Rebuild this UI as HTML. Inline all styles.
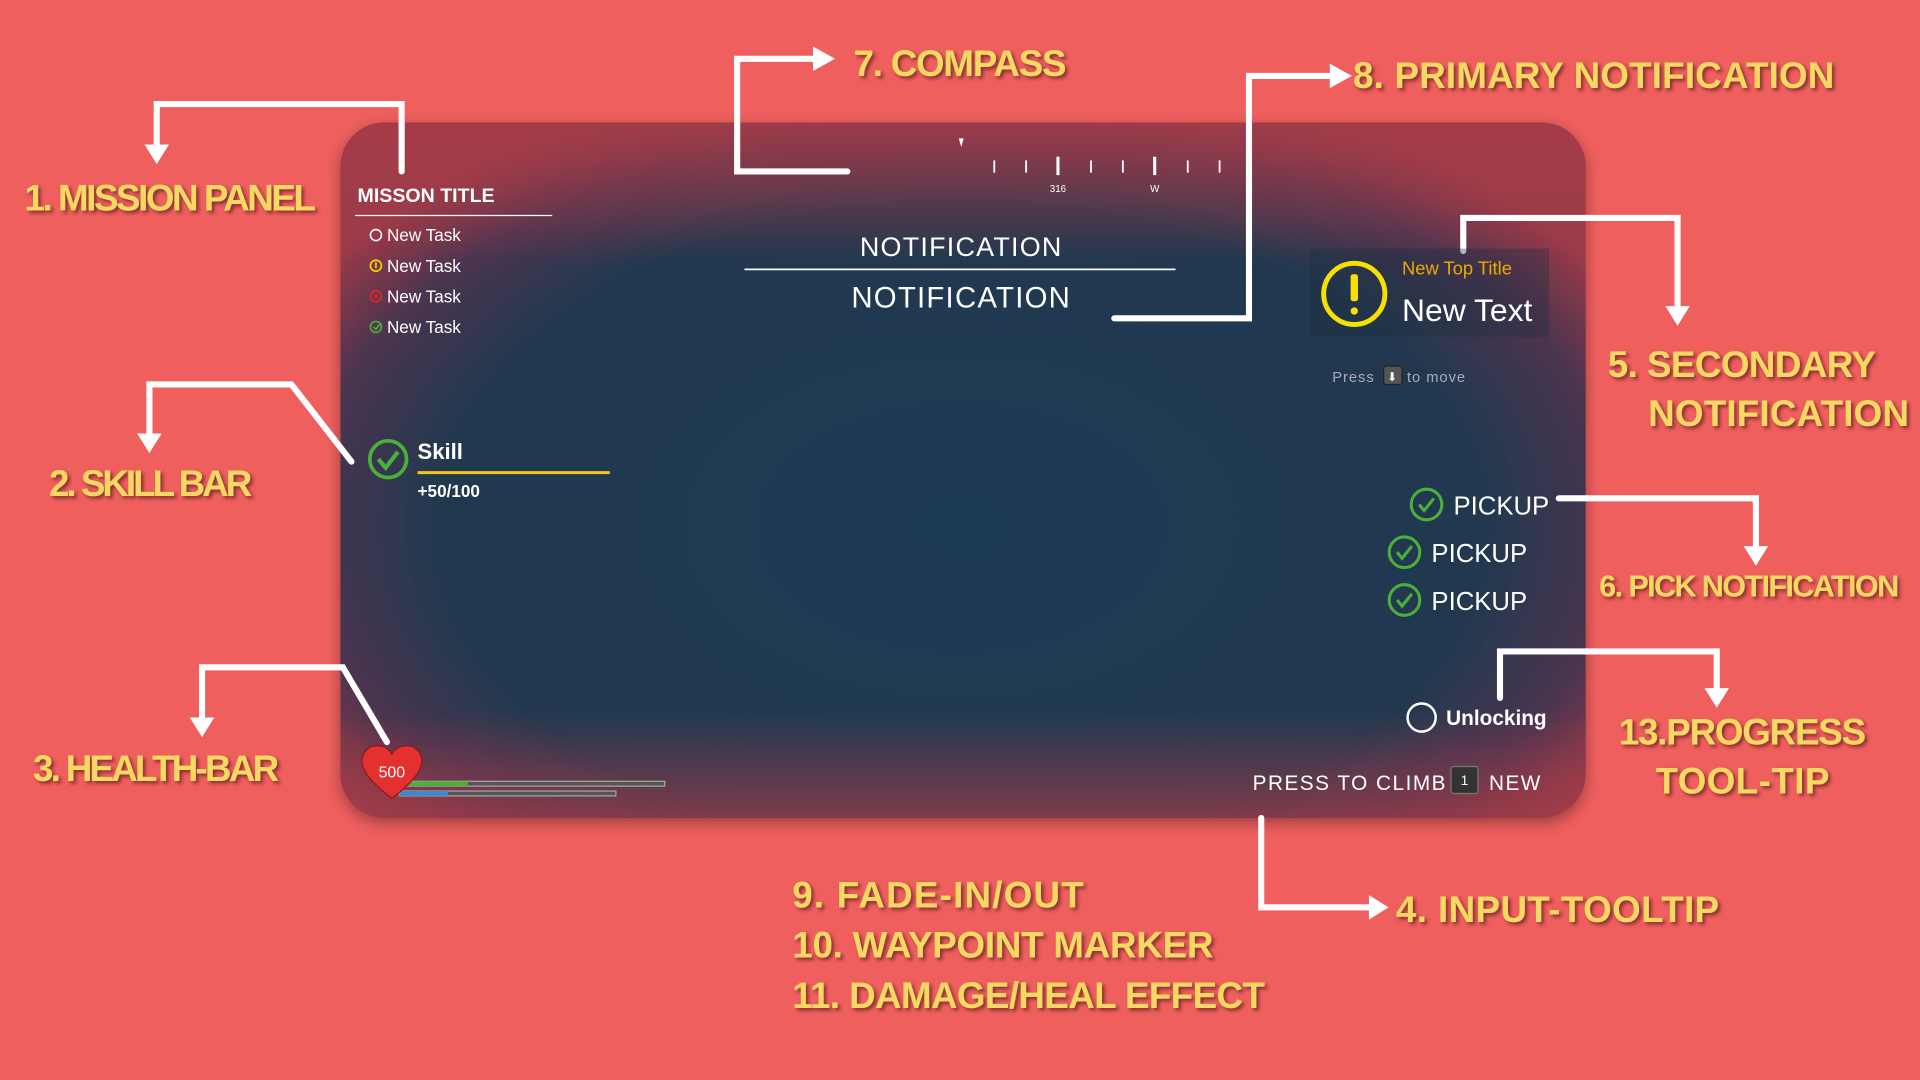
<!DOCTYPE html>
<html><head><meta charset="utf-8"><style>
html,body{margin:0;padding:0;background:#ef5f5e;overflow:hidden}
svg{display:block}
.lab{font-family:"Liberation Sans Narrow","Liberation Sans",sans-serif;font-weight:bold;fill:#f7d864;font-size:30px}
.ui{font-family:"Liberation Sans",sans-serif;fill:#fff}
</style></head><body>
<svg width="1920" height="1080" viewBox="0 0 1568 882" xmlns="http://www.w3.org/2000/svg">
<defs>
<radialGradient id="pg" cx="785" cy="430" r="620" gradientUnits="userSpaceOnUse" gradientTransform="translate(785 430) scale(1 0.62) translate(-785 -430)">
<stop offset="0" stop-color="#1f3a52"/><stop offset="0.68" stop-color="#203950"/><stop offset="0.86" stop-color="#4a3450"/><stop offset="1" stop-color="#9a3a48"/>
</radialGradient>
<linearGradient id="tg" x1="0" y1="0" x2="0" y2="1"><stop offset="0" stop-color="#a53c48" stop-opacity="0.9"/><stop offset="0.2" stop-color="#a53c48" stop-opacity="0"/><stop offset="0.85" stop-color="#a53c48" stop-opacity="0"/><stop offset="1" stop-color="#a53c48" stop-opacity="0.7"/></linearGradient>
<filter id="sh" x="-10%" y="-10%" width="120%" height="120%"><feDropShadow dx="0" dy="4" stdDeviation="6" flood-color="#000" flood-opacity="0.35"/></filter>
<filter id="ts"><feDropShadow dx="2" dy="2" stdDeviation="1.5" flood-color="#5a1f1f" flood-opacity="0.7"/></filter>
</defs>
<rect width="1568" height="882" fill="#ef5f5e"/>
<rect x="278" y="100" width="1017" height="568" rx="36" fill="url(#pg)" filter="url(#sh)"/>
<rect x="278" y="100" width="1017" height="568" rx="36" fill="url(#tg)"/>

<g fill="none" stroke="#fff" stroke-width="5" stroke-linejoin="miter" stroke-linecap="round">
<polyline points="328,140 328,85 128,85 128,120"/>
<polyline points="287,377 238,314 122,314 122,356"/>
<polyline points="316,606 280,545 165,545 165,588"/>
<polyline points="692,140 602,140 602,48 666,48"/>
<polyline points="910,260 1020,260 1020,62 1088,62"/>
<polyline points="1195,205 1195,178 1370,178 1370,252"/>
<polyline points="1273,407 1434,407 1434,448"/>
<polyline points="1225,570 1225,532 1402,532 1402,564"/>
<polyline points="1030,668 1030,741 1120,741"/>
</g>
<g fill="#fff">
<polygon points="118,118 138,118 128,134"/>
<polygon points="112,354 132,354 122,370"/>
<polygon points="155,586 175,586 165,602"/>
<polygon points="664,38 664,58 682,48"/>
<polygon points="1086,52 1086,72 1104,62"/>
<polygon points="1360,250 1380,250 1370,266"/>
<polygon points="1424,446 1444,446 1434,462"/>
<polygon points="1392,562 1412,562 1402,578"/>
<polygon points="1118,731 1118,751 1134,741"/>
</g>

<g class="lab" filter="url(#ts)">
<text x="20" y="172" textLength="238">1. MISSION PANEL</text>
<text x="40" y="405" textLength="166">2. SKILL BAR</text>
<text x="27" y="638" textLength="201">3. HEALTH-BAR</text>
<text x="697" y="62" textLength="174">7. COMPASS</text>
<text x="1105" y="72" textLength="393">8. PRIMARY NOTIFICATION</text>
<text x="1313" y="308" textLength="219">5. SECONDARY</text>
<text x="1346" y="348" textLength="213">NOTIFICATION</text>
<text x="1306" y="487" textLength="245" style="font-size:25px">6. PICK NOTIFICATION</text>
<text x="1322" y="608" textLength="202">13.PROGRESS</text>
<text x="1352" y="648" textLength="142">TOOL-TIP</text>
<text x="1140" y="753" textLength="264">4. INPUT-TOOLTIP</text>
<text x="647" y="741" textLength="238">9. FADE-IN/OUT</text>
<text x="647" y="782" textLength="344">10. WAYPOINT MARKER</text>
<text x="647" y="823" textLength="386">11. DAMAGE/HEAL EFFECT</text>
</g>

<g stroke="#fff" stroke-width="1.5">
<line x1="812" y1="131" x2="812" y2="141"/><line x1="838" y1="131" x2="838" y2="141"/>
<line x1="864" y1="128" x2="864" y2="143" stroke-width="2.5"/><line x1="891" y1="131" x2="891" y2="141"/>
<line x1="917" y1="131" x2="917" y2="141"/><line x1="943" y1="128" x2="943" y2="143" stroke-width="2.5"/>
<line x1="970" y1="131" x2="970" y2="141"/><line x1="996" y1="131" x2="996" y2="141"/>
</g>
<polygon points="783,113 787,113 785,120" fill="#fff"/>
<text class="ui" x="864" y="157" font-size="8" text-anchor="middle" fill="#ccc">316</text>
<text class="ui" x="943" y="157" font-size="8" text-anchor="middle">W</text>

<text class="ui" x="785" y="209" font-size="22" text-anchor="middle" letter-spacing="1">NOTIFICATION</text>
<line x1="608" y1="220" x2="960" y2="220" stroke="#fff" stroke-width="1.5"/>
<text class="ui" x="785" y="251" font-size="24" text-anchor="middle" letter-spacing="1">NOTIFICATION</text>

<text class="ui" x="292" y="165" font-size="16" font-weight="bold">MISSON TITLE</text>
<line x1="290" y1="176" x2="451" y2="176" stroke="#fff" stroke-width="1"/>
<g class="ui" font-size="14">
<text x="316" y="197">New Task</text><text x="316" y="222">New Task</text>
<text x="316" y="247">New Task</text><text x="316" y="272">New Task</text>
</g>
<circle cx="307" cy="192" r="4.5" fill="none" stroke="#fff" stroke-width="1.3"/>
<circle cx="307" cy="217" r="4.5" fill="none" stroke="#f5dc00" stroke-width="1.3"/>
<line x1="307" y1="214" x2="307" y2="219" stroke="#f5dc00" stroke-width="1.3"/>
<circle cx="307" cy="242" r="4.5" fill="none" stroke="#e02525" stroke-width="1.3"/>
<path d="M305,240 l4,4 M309,240 l-4,4" stroke="#e02525" stroke-width="1"/>
<circle cx="307" cy="267" r="4.5" fill="none" stroke="#4caf3a" stroke-width="1.3"/>
<path d="M305,267 l2,2 l3,-4" fill="none" stroke="#4caf3a" stroke-width="1.3"/>

<circle cx="317" cy="375" r="15" fill="none" stroke="#4caf3a" stroke-width="3"/>
<path d="M309,375 l6,7 l10,-13" fill="none" stroke="#4caf3a" stroke-width="3.5"/>
<text class="ui" x="341" y="375" font-size="18" font-weight="bold">Skill</text>
<line x1="341" y1="386" x2="498" y2="386" stroke="#f5c518" stroke-width="2.5"/>
<text class="ui" x="341" y="406" font-size="14" font-weight="bold">+50/100</text>

<rect x="330" y="638" width="213" height="4" fill="#555" stroke="#bbb" stroke-width="0.8"/>
<rect x="330" y="638" width="52" height="4" fill="#4caf3a"/>
<rect x="326" y="646" width="177" height="4" fill="#555" stroke="#bbb" stroke-width="0.8"/>
<rect x="326" y="646" width="40" height="4" fill="#3a8ad0"/>
<path d="M320,652 C296,634 292,622 298,614 C304,606 316,608 320,616 C324,608 336,606 342,614 C348,622 344,634 320,652Z" fill="#e53030" stroke="#8a1a1a" stroke-width="1"/>
<text class="ui" x="320" y="635" font-size="13" text-anchor="middle" fill="#222">500</text>

<rect x="1070" y="203" width="195" height="72" fill="#1a2d40" opacity="0.35"/>
<circle cx="1106" cy="240" r="25" fill="none" stroke="#f5e000" stroke-width="4"/>
<rect x="1103" y="224" width="6" height="22" rx="2" fill="#f5e000"/>
<circle cx="1106" cy="254" r="3" fill="#f5e000"/>
<text class="ui" x="1145" y="224" font-size="15" style="fill:#f0a800">New Top Title</text>
<text class="ui" x="1145" y="262" font-size="26">New Text</text>
<text class="ui" x="1088" y="312" font-size="12" style="fill:#aab" letter-spacing="0.8">Press</text>
<rect x="1130" y="299" width="15" height="15" rx="2" fill="#555" stroke="#222"/>
<text class="ui" x="1137" y="311" font-size="10" text-anchor="middle">⬇</text>
<text class="ui" x="1149" y="312" font-size="12" style="fill:#aab" letter-spacing="0.8">to move</text>

<g fill="none" stroke="#4caf3a" stroke-width="2.5">
<circle cx="1165" cy="412" r="12.5"/><path d="M1159,412 l4,5 l8,-10"/>
<circle cx="1147" cy="451" r="12.5"/><path d="M1141,451 l4,5 l8,-10"/>
<circle cx="1147" cy="490" r="12.5"/><path d="M1141,490 l4,5 l8,-10"/>
</g>
<g class="ui" font-size="21">
<text x="1187" y="420">PICKUP</text><text x="1169" y="459">PICKUP</text><text x="1169" y="498">PICKUP</text>
</g>

<circle cx="1161" cy="586" r="11.5" fill="none" stroke="#fff" stroke-width="2"/>
<text class="ui" x="1181" y="592" font-size="17" font-weight="bold">Unlocking</text>

<text class="ui" x="1023" y="645" font-size="17" letter-spacing="1.2">PRESS TO CLIMB</text>
<rect x="1185" y="626" width="22" height="22" rx="2" fill="#333" stroke="#777"/>
<text class="ui" x="1196" y="641" font-size="11" text-anchor="middle">1</text>
<text class="ui" x="1216" y="645" font-size="17" letter-spacing="1.2">NEW</text>
</svg>
</body></html>
